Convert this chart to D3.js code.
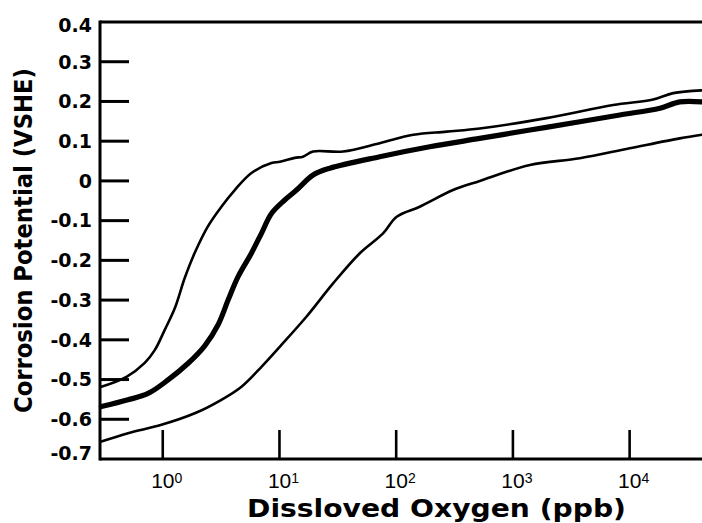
<!DOCTYPE html>
<html>
<head>
<meta charset="utf-8">
<script src="https://cdn.jsdelivr.net/npm/d3@7"></script>
<style>
  html, body { margin: 0; padding: 0; background: #fff; }
  svg { display: block; }
</style>
</head>
<body>
<svg id="chart" width="702" height="523"></svg>
<script>
// ---------- data (x: dissolved oxygen, ppb; y: corrosion potential, V SHE) ----------
const yTicks = [0.4, 0.3, 0.2, 0.1, 0, -0.1, -0.2, -0.3, -0.4, -0.5, -0.6, -0.7];
const yTickLabels = ["0.4", "0.3", "0.2", "0.1", "0", "-0.1", "-0.2", "-0.3", "-0.4", "-0.5", "-0.6", "-0.7"];
const xTickExps = [0, 1, 2, 3, 4];

const upperX = [0.298, 0.489, 0.701, 0.854, 1.04, 1.27, 1.54, 1.88, 2.43, 3.18, 4.14, 5.75, 8.54, 10.1, 13.5, 15.9, 19.4, 35.1, 72.3, 140, 270, 520, 1940, 7220, 15900, 23600, 41600];
const upperY = [-0.518, -0.493, -0.458, -0.426, -0.375, -0.320, -0.245, -0.181, -0.115, -0.065, -0.023, 0.020, 0.045, 0.048, 0.058, 0.061, 0.074, 0.074, 0.095, 0.116, 0.124, 0.132, 0.158, 0.191, 0.205, 0.221, 0.228];

const middleX = [0.298, 0.504, 0.748, 1.11, 1.65, 2.29, 2.98, 3.63, 4.42, 5.75, 7.01, 8.54, 11.1, 14.0, 19.4, 27.0, 72.3, 194, 520, 1400, 3740, 8240, 18200, 26900, 41600];
const middleY = [-0.568, -0.551, -0.535, -0.501, -0.459, -0.415, -0.362, -0.300, -0.241, -0.182, -0.132, -0.082, -0.048, -0.023, 0.015, 0.032, 0.061, 0.086, 0.107, 0.128, 0.149, 0.166, 0.183, 0.199, 0.199];

const lowerX = [0.298, 0.504, 0.975, 1.88, 3.18, 4.73, 7.01, 10.1, 17.0, 28.8, 48.8, 77.2, 101, 159, 307, 520, 1400, 3740, 10000, 26900, 41600];
const lowerY = [-0.656, -0.635, -0.614, -0.585, -0.551, -0.518, -0.468, -0.417, -0.342, -0.258, -0.182, -0.132, -0.090, -0.065, -0.023, 0.000, 0.040, 0.057, 0.082, 0.107, 0.116];

const series = [
  { name: "upper", xs: upperX, ys: upperY, width: 2.6 },
  { name: "middle", xs: middleX, ys: middleY, width: 5.2 },
  { name: "lower", xs: lowerX, ys: lowerY, width: 2.6 }
];

// ---------- layout ----------
const svg = d3.select("#chart");
const mLeft = 100, mRight = 702, mTop = 22, mBottom = 459;

const x = d3.scaleLog().domain([0.29, 41700]).range([mLeft, mRight]);
const y = d3.scaleLinear().domain([-0.7, 0.4]).range([mBottom, mTop]);

const ink = "#000";

// frame: left axis, bottom axis, top line
svg.append("line").attr("x1", mLeft).attr("x2", mRight).attr("y1", y(0.4)).attr("y2", y(0.4))
  .attr("stroke", ink).attr("stroke-width", 3);
svg.append("line").attr("x1", mLeft).attr("x2", mRight).attr("y1", y(-0.7)).attr("y2", y(-0.7))
  .attr("stroke", ink).attr("stroke-width", 3);
svg.append("line").attr("x1", mLeft).attr("x2", mLeft).attr("y1", y(0.4) - 1.5).attr("y2", y(-0.7) + 1.5)
  .attr("stroke", ink).attr("stroke-width", 3);

// y ticks (inward) and labels
const yInner = yTicks.filter(v => v < 0.4 && v > -0.7);
svg.append("g").selectAll("line").data(yInner).join("line")
  .attr("x1", mLeft).attr("x2", mLeft + 29)
  .attr("y1", d => y(d)).attr("y2", d => y(d))
  .attr("stroke", ink).attr("stroke-width", 3);

svg.append("g").selectAll("text").data(yTicks).join("text")
  .attr("x", 92)
  .attr("y", d => y(d) + (d === 0.4 ? 3 : d === -0.7 ? -6 : 0))
  .attr("dy", "0.36em")
  .attr("text-anchor", "end")
  .attr("font-family", "DejaVu Sans")
  .attr("font-weight", "bold")
  .attr("font-size", 19)
  .attr("fill", ink)
  .text((d, i) => yTickLabels[i]);

// x ticks (inward) and labels
svg.append("g").selectAll("line").data(xTickExps).join("line")
  .attr("x1", d => x(Math.pow(10, d))).attr("x2", d => x(Math.pow(10, d)))
  .attr("y1", mBottom).attr("y2", mBottom - 29)
  .attr("stroke", ink).attr("stroke-width", 2.6);

const xl = svg.append("g").selectAll("text").data(xTickExps).join("text")
  .attr("x", d => x(Math.pow(10, d)) + 4)
  .attr("y", 488)
  .attr("text-anchor", "middle")
  .attr("font-family", "Liberation Sans")
  .attr("font-size", 21)
  .attr("fill", ink);
xl.append("tspan").text("10");
xl.append("tspan").attr("font-size", 14).attr("dy", -5).text(d => String(d));

// axis titles
svg.append("text")
  .attr("x", (247 + 626) / 2).attr("y", 517)
  .attr("text-anchor", "middle")
  .attr("font-family", "DejaVu Sans").attr("font-weight", "bold").attr("font-size", 24)
  .attr("textLength", 379).attr("lengthAdjust", "spacingAndGlyphs")
  .attr("fill", ink)
  .text("Dissloved Oxygen (ppb)");

svg.append("text")
  .attr("transform", "translate(32,240.5) rotate(-90)")
  .attr("text-anchor", "middle")
  .attr("font-family", "DejaVu Sans").attr("font-weight", "bold").attr("font-size", 24)
  .attr("textLength", 345).attr("lengthAdjust", "spacingAndGlyphs")
  .attr("fill", ink)
  .text("Corrosion Potential (VSHE)");

// curves
const line = d3.line()
  .x(d => x(d[0]))
  .y(d => y(d[1]))
  .curve(d3.curveCatmullRom.alpha(0.5));

svg.append("g").selectAll("path").data(series).join("path")
  .attr("d", s => line(s.xs.map((v, i) => [v, s.ys[i]])))
  .attr("fill", "none")
  .attr("stroke", ink)
  .attr("stroke-width", s => s.width)
  .attr("stroke-linejoin", "round")
  .attr("stroke-linecap", "round");
</script>
</body>
</html>
